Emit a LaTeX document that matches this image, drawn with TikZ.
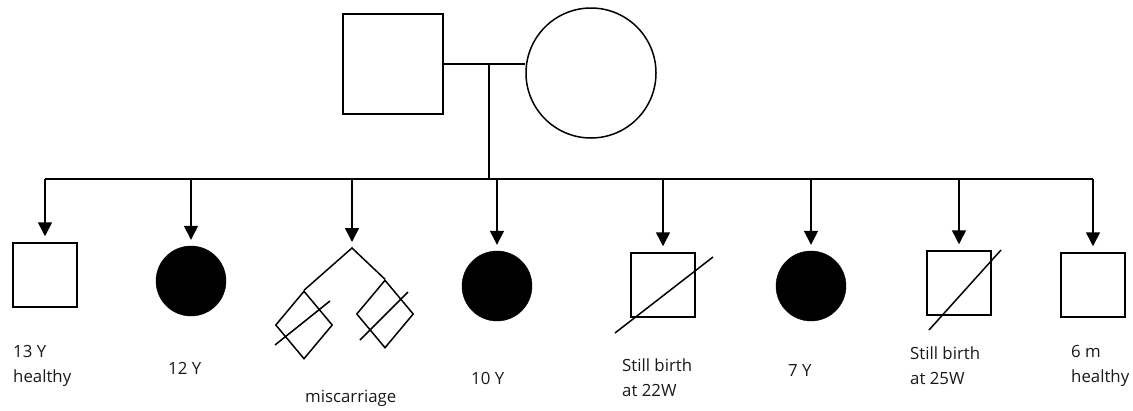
\documentclass[tikz,border=0pt]{standalone}
\usepackage{fontspec}
\setmainfont{Open Sans}
\usetikzlibrary{arrows.meta,shapes.geometric,calc}
\tikzset{
  ln/.style={line width=1.5pt, black},
  sq/.style={draw, ln, rectangle, inner sep=0pt},
  circ/.style={draw, ln, circle, inner sep=0pt},
  aff/.style={fill=black, draw=black, circle, inner sep=0pt, minimum size=70pt},
  dia/.style={draw, ln, diamond, inner sep=0pt, minimum width=57pt, minimum height=68pt},
  arr/.style={ln, -{Triangle[length=14pt,width=14pt]}, shorten >=6pt},
  lab/.style={anchor=west, inner sep=0pt, align=left, text=black!90,
    font=\fontsize{16.8}{25}\selectfont}
}
\begin{document}
\begin{tikzpicture}[x=1pt,y=-1pt]
\useasboundingbox (0,0) rectangle (1133,410);
% parents
\node[sq, minimum size=100pt] (father) at (393,64) {};
\node[circ, minimum size=130pt] (mother) at (591,73) {};
\draw[ln] (father.east) -- (father.east -| mother.west);
\coordinate (mid) at (489,64);
\coordinate (sibL) at (45,179);
\coordinate (sibR) at (1093,179);
\draw[ln] (mid) -- (mid |- sibL);
\draw[ln] (sibL) -- (sibR);
% children
\node[sq, minimum size=64pt] (c1) at (45,275) {};
\node[aff] (c2) at (191,281) {};
\coordinate (c3) at (352,248);
\node[aff] (c4) at (497,286) {};
\node[sq, minimum size=64pt] (c5) at (663,285) {};
\node[aff] (c6) at (811,286) {};
\node[sq, minimum size=64pt] (c7) at (959,283) {};
\node[sq, minimum size=64pt] (c8) at (1093,285) {};
% miscarriage twins
\node[dia] (m1) at (304,325) {};
\node[dia] (m2) at (385,314) {};
\draw[ln] (m1.north) -- (c3) -- (m2.north);
\coordinate (m1a) at (275,345); \coordinate (m1b) at (330,301);
\coordinate (m2a) at (360,340); \coordinate (m2b) at (408,292);
\draw[ln] (m1a) -- (m1b);
\draw[ln] (m2a) -- (m2b);
% stillbirth slashes
\coordinate (s5a) at (615,333); \coordinate (s5b) at (713,257);
\coordinate (s7a) at (929,330); \coordinate (s7b) at (1001,250);
\draw[ln] (s5a) -- (s5b);
\draw[ln] (s7a) -- (s7b);
% arrows
\foreach \n in {c1,c2,c3,c4,c5,c6,c7,c8}
  \draw[arr] (\n |- sibL) -- (\n);
% labels
\node[lab] (l1) at (13,366) {13 Y\\healthy};
\node[lab] (l2) at (168,368) {12 Y};
\node[lab] (l3) at (305,398) {miscarriage};
\node[lab] (l4) at (471,378) {10 Y};
\node[lab] (l5) at (622,378) {Still birth\\at 22W};
\node[lab] (l6) at (788,370) {7 Y};
\node[lab] (l7) at (910,366) {Still birth\\at 25W};
\node[lab] (l8) at (1071,366) {6 m\\healthy};
\end{tikzpicture}
\end{document}
